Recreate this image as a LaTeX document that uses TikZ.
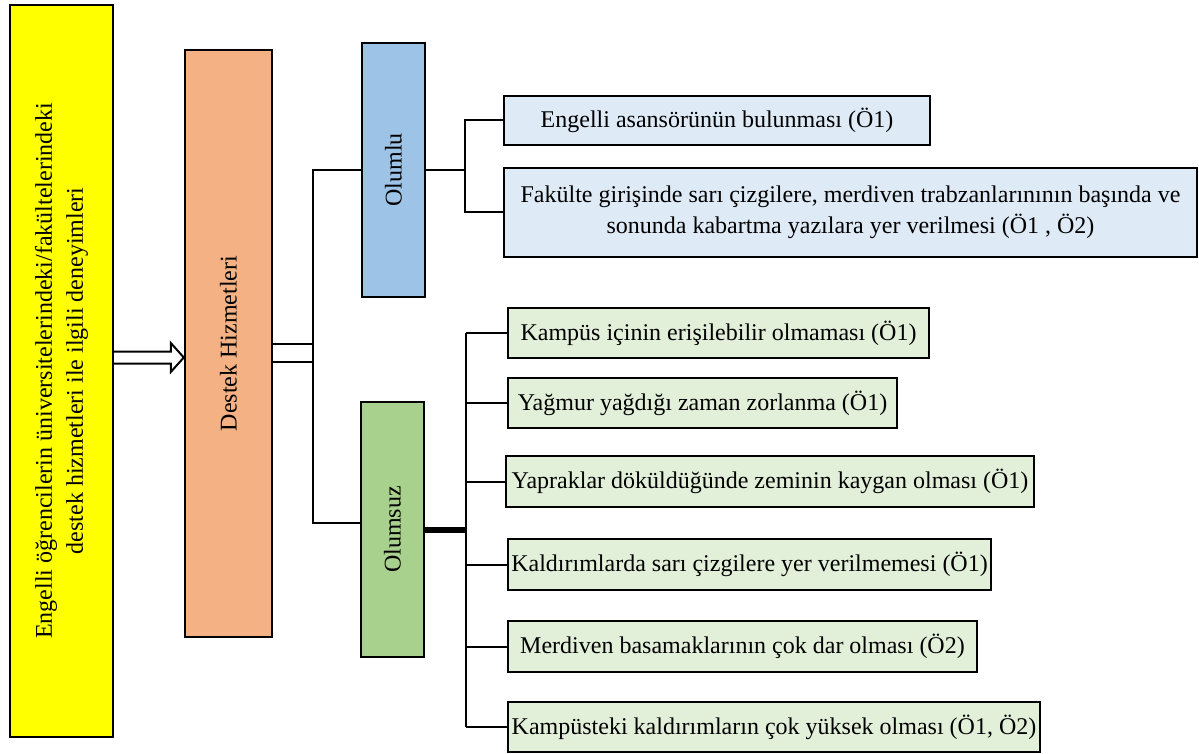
\documentclass[tikz,border=0pt]{standalone}
\usepackage{fontspec}
\setmainfont{Liberation Serif}
\usetikzlibrary{calc}
\definecolor{cyellow}{HTML}{FFFF00}
\definecolor{corange}{HTML}{F4B183}
\definecolor{cblue}{HTML}{9DC3E6}
\definecolor{cgreen}{HTML}{A9D18E}
\definecolor{lblue}{HTML}{DEEBF7}
\definecolor{lgreen}{HTML}{E2F0D9}
\begin{document}
\begin{tikzpicture}[x=1pt,y=-1pt,
  box/.style={draw=black, line width=2.4pt, inner sep=0pt, align=center,
    font=\fontsize{24}{31}\selectfont},
  vbox/.style={box, rotate=90},
  itemP/.style={box, fill=lblue},
  itemN/.style={box, fill=lgreen},
  link/.style={draw=black, line width=2pt},
  thicklink/.style={draw=black, line width=6pt}]
\useasboundingbox (0,0) rectangle (1199,754);

% main column boxes (rotated text)
\node[vbox, fill=cyellow, minimum width=732pt, minimum height=103pt] (Y) at (61.5,371)
  {Engelli öğrencilerin üniversitelerindeki/fakültelerindeki\\destek hizmetleri ile ilgili deneyimleri};
\node[vbox, fill=corange, minimum width=587pt, minimum height=87pt] (O) at (228.5,343.5)
  {Destek Hizmetleri};
\node[vbox, fill=cblue, minimum width=254pt, minimum height=63pt] (P) at (393.5,170) {Olumlu};
\node[vbox, fill=cgreen, minimum width=255pt, minimum height=63pt] (N) at (392.5,529.5) {Olumsuz};

% positive items
\node[itemP, minimum width=426pt, minimum height=49pt] (b1) at (717,120.5)
  {Engelli asansörünün bulunması (Ö1)};
\node[itemP, minimum width=693pt, minimum height=89pt] (b2) at (850.5,212.5)
  {Fakülte girişinde sarı çizgilere, merdiven trabzanlarınının başında ve\\sonunda kabartma yazılara yer verilmesi (Ö1 , Ö2)};

% negative items
\node[itemN, minimum width=421pt, minimum height=50pt] (c1) at (718.5,333)
  {Kampüs içinin erişilebilir olmaması (Ö1)};
\node[itemN, minimum width=389pt, minimum height=50pt] (c2) at (702.5,403)
  {Yağmur yağdığı zaman zorlanma (Ö1)};
\node[itemN, minimum width=528pt, minimum height=51pt] (c3) at (770,481.5)
  {Yapraklar döküldüğünde zeminin kaygan olması (Ö1)};
\node[itemN, minimum width=483pt, minimum height=51pt] (c4) at (749.5,564.5)
  {Kaldırımlarda sarı çizgilere yer verilmemesi (Ö1)};
\node[itemN, minimum width=469pt, minimum height=51pt] (c5) at (742.5,646.5)
  {Merdiven basamaklarının çok dar olması (Ö2)};
\node[itemN, minimum width=532pt, minimum height=50pt] (c6) at (774,727)
  {Kampüsteki kaldırımların çok yüksek olması (Ö1, Ö2)};

% hollow block arrow from the yellow box to the orange box
\coordinate (ar) at (0,357.5);
\draw[line width=2pt, fill=white, line join=miter]
  ($(Y.south |- ar)+(0,-6)$) -- ($(O.north |- ar)+(-13,-6)$) -- ($(O.north |- ar)+(-13,-14.5)$)
  -- (O.north |- ar) -- ($(O.north |- ar)+(-13,14.5)$) -- ($(O.north |- ar)+(-13,6)$)
  -- ($(Y.south |- ar)+(0,6)$);

% double link from Destek Hizmetleri to the split
\coordinate (jA) at (313,344);
\coordinate (jB) at (313,362);
\coordinate (jP) at (313,170);
\coordinate (jN) at (313,523);
\draw[link] (O.south |- jA) -- (jA);
\draw[link] (O.south |- jB) -- (jB);
\draw[link] (P.north) -- (jP) -- (jN) -- (jN -| N.north);

% Olumlu branch
\coordinate (hP) at (465,170);
\draw[link] (P.south) -- (hP);
\draw[link] (b1.west) -| (hP) |- (b2.west);

% Olumsuz branch
\coordinate (hN) at (466,529.5);
\draw[thicklink] (N.south) -- (hN);
\draw[link] (hN |- c1.west) -- (hN |- c6.west);
\foreach \c in {c1,c2,c3,c4,c5,c6} {
  \draw[link] (hN |- \c.west) -- (\c.west);
}
\end{tikzpicture}
\end{document}
